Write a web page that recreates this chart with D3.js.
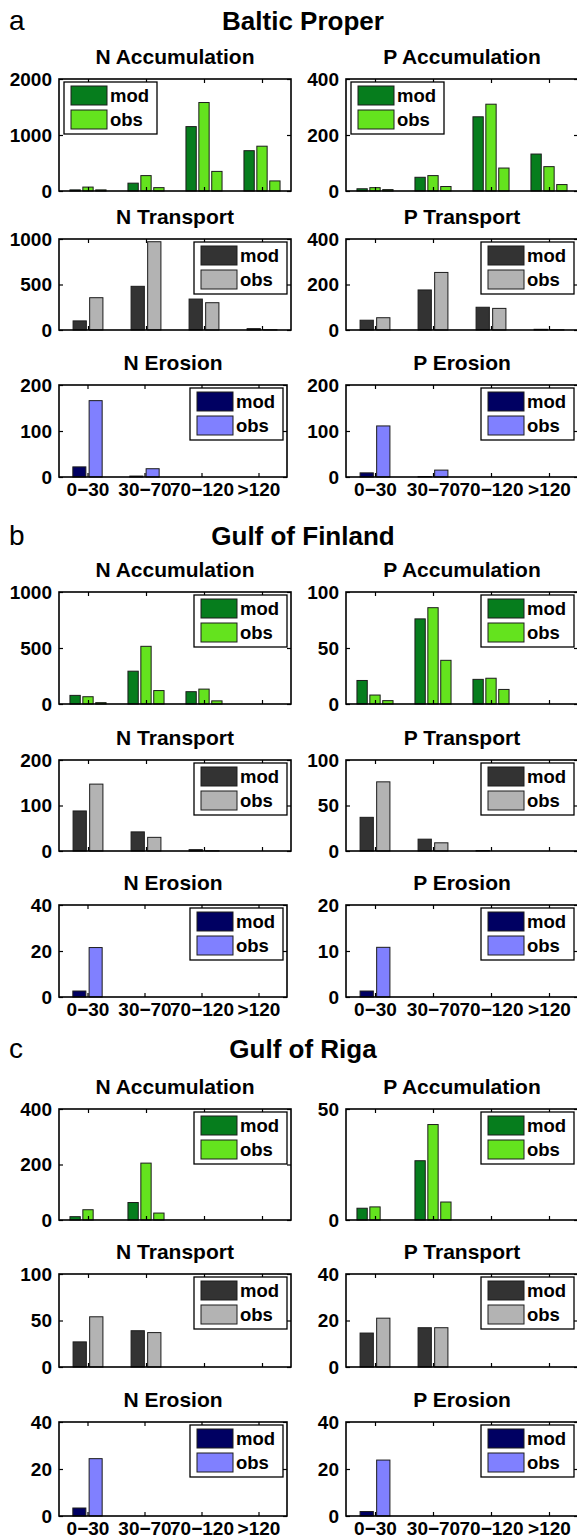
<!DOCTYPE html>
<html>
<head>
<meta charset="utf-8">
<script src="https://cdn.jsdelivr.net/npm/d3@7"></script>
<style>
  body { margin: 0; background: #fff; }
  svg { display: block; }
  text { font-family: "Liberation Sans", Arial, Helvetica, sans-serif; fill: #000; }
</style>
</head>
<body>
<svg id="fig" width="577" height="1538"></svg>
<script>
// depth classes (x categories) and legend entries
var categories = ["0\u221230", "30\u221270", "70\u2212120", ">120"];
var legendNames = ["mod", "obs"];
var regions = ["Baltic Proper", "Gulf of Finland", "Gulf of Riga"];
var regionLetters = ["a", "b", "c"];
var rowNames = ["Accumulation", "Transport", "Erosion"];
var nutrients = ["N", "P"];

// y tick labels for each panel [region][row][nutrient]
var yTicks = [
  [[[0, 1000, 2000], [0, 200, 400]], [[0, 500, 1000], [0, 200, 400]], [[0, 100, 200], [0, 100, 200]]],
  [[[0, 500, 1000], [0, 50, 100]], [[0, 100, 200], [0, 50, 100]], [[0, 20, 40], [0, 10, 20]]],
  [[[0, 200, 400], [0, 50]], [[0, 50, 100], [0, 20, 40]], [[0, 20, 40], [0, 20, 40]]]
];

// values: one row per series (mod, obs, extra obs), one entry per depth class
var bpNAcc = [[20, 140, 1150, 720], [70, 275, 1580, 800], [20, 60, 350, 180]];
var bpPAcc = [[8, 49, 265, 132], [12, 55, 310, 87], [5, 16, 82, 23]];
var bpNTra = [[100, 480, 340, 15], [355, 970, 300, 3]];
var bpPTra = [[43, 176, 100, 3], [54, 253, 95, 1]];
var bpNEro = [[22, 2, 0, 0], [166, 18, 0, 0]];
var bpPEro = [[9, 1, 0, 0], [111, 15, 0, 0]];

var gfNAcc = [[77, 293, 110, 0], [65, 515, 133, 0], [12, 120, 28, 0]];
var gfPAcc = [[21, 76, 22, 0], [8, 86, 23, 0], [3, 39, 13, 0]];
var gfNTra = [[88, 42, 3, 0], [147, 30, 0.5, 0]];
var gfPTra = [[37, 13, 0.5, 0], [76, 9, 0, 0]];
var gfNEro = [[2.6, 0, 0, 0], [21.5, 0, 0, 0]];
var gfPEro = [[1.3, 0, 0, 0], [10.8, 0, 0, 0]];

var grNAcc = [[12, 63, 0, 0], [37, 205, 0, 0], [0, 25, 0, 0]];
var grPAcc = [[5.3, 26.7, 0, 0], [5.9, 43, 0, 0], [0, 8.1, 0, 0]];
var grNTra = [[27, 39, 0, 0], [54, 37, 0, 0]];
var grPTra = [[14.6, 16.9, 0, 0], [21, 16.9, 0, 0]];
var grNEro = [[3.4, 0, 0, 0], [24.4, 0, 0, 0]];
var grPEro = [[1.9, 0, 0, 0], [23.8, 0, 0, 0]];

var panelData = [
  [[bpNAcc, bpPAcc], [bpNTra, bpPTra], [bpNEro, bpPEro]],
  [[gfNAcc, gfPAcc], [gfNTra, gfPTra], [gfNEro, gfPEro]],
  [[grNAcc, grPAcc], [grNTra, grPTra], [grNEro, grPEro]]
];

// colours per row type
var rowColors = [
  ["#067d1d", "#64e31e", "#64e31e"],
  ["#333333", "#b3b3b3"],
  ["#000062", "#8080ff"]
];

// layout
var colX = [59, 346];
var rowTops = [[79, 239, 385], [592, 760, 905], [1109, 1274, 1422]];
var rowBottoms = [[191, 330, 477], [704, 851, 997], [1220, 1367, 1516]];
var titleBase = [29.5, 545, 1058];

var svg = d3.select("#fig");

//Draws one bar panel with its axes, title and legend
function drawPanel(r, row, col) {
  var data = panelData[r][row][col];
  var x0 = colX[col];
  var w = (col == 0 && row == 2) ? 228 : 232;
  var top = rowTops[r][row], bottom = rowBottoms[r][row];
  var ticks = yTicks[r][row][col];
  var maxV = ticks[ticks.length - 1];

  var x = d3.scaleLinear().domain([0.5, 4.5]).range([x0, x0 + w]);
  var y = d3.scaleLinear().domain([0, maxV]).range([bottom, top]);

  var g = svg.append("g");

  // grouped bars, matlab style spacing
  var n = data.length;
  var gw = Math.min(0.8, n / (n + 1.5));
  var bw = 0.8 * gw / n;
  data.forEach(function(series, i) {
    var off = -gw / 2 + (2 * i + 1) * gw / (2 * n);
    g.selectAll(null).data(series).enter().append("rect")
      .attr("x", function(d, k) { return x(k + 1 + off - bw / 2); })
      .attr("width", x(bw) - x(0))
      .attr("y", function(d) { return y(d); })
      .attr("height", function(d) { return y(0) - y(d); })
      .attr("fill", rowColors[row][i])
      .attr("stroke", "#1c1c1c")
      .attr("stroke-width", 1);
  });

  var left = g.append("g").attr("transform", "translate(" + x0 + ",0)")
    .call(d3.axisLeft(y).tickValues(ticks).tickSize(-4).tickPadding(7).tickFormat(d3.format("d")));
  var right = g.append("g").attr("transform", "translate(" + (x0 + w) + ",0)")
    .call(d3.axisRight(y).tickValues(ticks).tickSize(-4).tickFormat(""));
  var topAx = g.append("g").attr("transform", "translate(0," + top + ")")
    .call(d3.axisTop(x).tickValues([1, 2, 3, 4]).tickSize(-4).tickFormat(""));
  var bot = g.append("g").attr("transform", "translate(0," + bottom + ")")
    .call(d3.axisBottom(x).tickValues([1, 2, 3, 4]).tickSize(-4).tickPadding(5.5)
      .tickFormat(function(d) { return row == 2 ? categories[d - 1] : ""; }));

  [left, right, topAx, bot].forEach(function(a) {
    a.select(".domain").remove();
    a.selectAll("line").attr("stroke", "#000").attr("stroke-width", 1.2);
    a.attr("font-family", null).attr("font-size", null);
    a.selectAll("text").style("font-size", "19px").style("font-weight", "bold").attr("fill", "#000");
  });

  // axes box
  g.append("rect").attr("x", x0).attr("y", top).attr("width", w).attr("height", bottom - top)
    .attr("fill", "none").attr("stroke", "#000").attr("stroke-width", 1.6);

  // panel title
  g.append("text").attr("x", x0 + w / 2).attr("y", top - 15.5)
    .attr("text-anchor", "middle").style("font-size", "21px").style("font-weight", "bold")
    .text(nutrients[col] + " " + rowNames[row]);

  // legend
  var lw = 93, lh = 52;
  var lx = (r == 0 && row == 0) ? x0 + 5 : x0 + w - 4 - lw;
  var ly = top + 3;
  var leg = g.append("g").attr("transform", "translate(" + lx + "," + ly + ")");
  leg.append("rect").attr("width", lw).attr("height", lh)
    .attr("fill", "#fff").attr("stroke", "#000").attr("stroke-width", 1.3);
  legendNames.forEach(function(name, i) {
    leg.append("rect").attr("x", 7).attr("y", 4 + i * 24).attr("width", 36).attr("height", 19)
      .attr("fill", rowColors[row][i]).attr("stroke", "#1c1c1c").attr("stroke-width", 1);
    leg.append("text").attr("x", 46).attr("y", 20 + i * 24)
      .style("font-size", "18.5px").style("font-weight", "bold").text(name);
  });
}

regions.forEach(function(name, r) {
  svg.append("text").attr("x", 9).attr("y", titleBase[r])
    .style("font-size", "28px").text(regionLetters[r]);
  svg.append("text").attr("x", 303).attr("y", titleBase[r])
    .attr("text-anchor", "middle").style("font-size", "26px").style("font-weight", "bold")
    .text(name);
  for (var row = 0; row < 3; row++) {
    for (var col = 0; col < 2; col++) {
      drawPanel(r, row, col);
    }
  }
});
</script>
</body>
</html>
